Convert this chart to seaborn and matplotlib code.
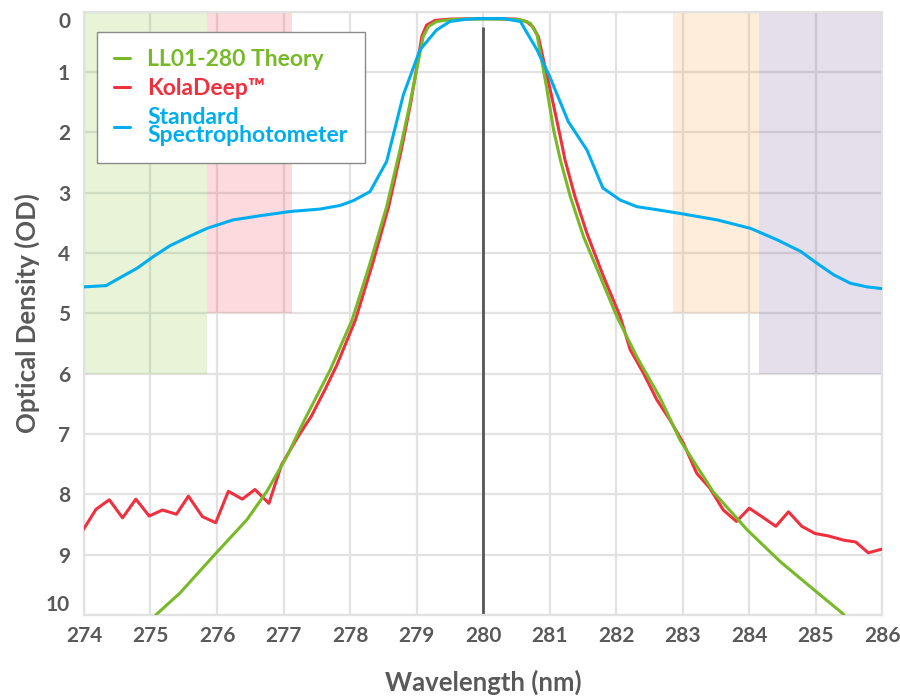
import matplotlib
matplotlib.use("Agg")
import matplotlib.pyplot as plt
import seaborn as sns
import pandas as pd

# --- data ---
theory_nm = [275.08, 275.44, 275.94, 276.45, 276.75, 277.05, 277.3, 277.7, 278.03, 278.3,
             278.55, 278.75, 278.9, 279.03, 279.1, 279.18, 279.3, 279.5, 279.8, 280.2,
             280.56, 280.71, 280.81, 280.88, 280.96, 281.06, 281.16, 281.31, 281.51, 281.76,
             282.01, 282.31, 282.66, 282.96, 283.46, 283.97, 284.47, 284.97, 285.42]
theory_od = [10.0, 9.64, 9.03, 8.42, 7.95, 7.37, 6.8, 5.94, 5.11, 4.17,
             3.23, 2.29, 1.52, 0.8, 0.41, 0.24, 0.16, 0.13, 0.12, 0.12,
             0.13, 0.19, 0.38, 0.8, 1.29, 1.96, 2.45, 3.06, 3.73, 4.39,
             5.05, 5.72, 6.4, 7.1, 7.96, 8.59, 9.12, 9.58, 9.99]

kola_nm = [273.97, 274.18, 274.38, 274.58, 274.78, 274.98, 275.18, 275.39, 275.57, 275.78,
           275.98, 276.17, 276.38, 276.57, 276.78, 276.97, 277.22, 277.42, 277.62, 277.8,
           278.08, 278.34, 278.58, 278.77, 278.91, 279.02, 279.08, 279.15, 279.28, 279.5,
           280.0, 280.5, 280.65, 280.75, 280.83, 280.93, 281.03, 281.16, 281.23, 281.38,
           281.56, 281.81, 282.06, 282.21, 282.41, 282.61, 282.81, 283.01, 283.21, 283.41,
           283.61, 283.81, 284.0, 284.19, 284.4, 284.59, 284.79, 284.99, 285.19, 285.42,
           285.6, 285.79, 285.99]
kola_od = [8.62, 8.25, 8.09, 8.39, 8.08, 8.36, 8.26, 8.33, 8.03, 8.37,
           8.47, 7.95, 8.08, 7.92, 8.15, 7.51, 7.04, 6.7, 6.27, 5.86,
           5.11, 4.17, 3.23, 2.29, 1.52, 0.8, 0.4, 0.22, 0.14, 0.12,
           0.11, 0.12, 0.16, 0.25, 0.41, 0.91, 1.4, 2.07, 2.45, 3.06,
           3.67, 4.39, 5.05, 5.6, 5.99, 6.43, 6.77, 7.15, 7.65, 7.9,
           8.26, 8.45, 8.23, 8.37, 8.53, 8.29, 8.53, 8.65, 8.69, 8.76,
           8.79, 8.97, 8.91]

std_nm = [274.0, 274.33, 274.54, 274.8, 275.04, 275.29, 275.57, 275.85, 276.24, 276.65,
          277.1, 277.55, 277.85, 278.05, 278.3, 278.55, 278.8, 279.05, 279.3, 279.5,
          279.76, 280.0, 280.3, 280.56, 280.81, 281.0, 281.28, 281.56, 281.8, 282.06,
          282.31, 282.61, 283.0, 283.52, 284.02, 284.42, 284.77, 285.02, 285.27, 285.52,
          285.77, 286.0]
std_od = [4.56, 4.54, 4.41, 4.25, 4.06, 3.88, 3.73, 3.59, 3.45, 3.38,
          3.31, 3.27, 3.21, 3.13, 2.98, 2.48, 1.38, 0.63, 0.30, 0.16,
          0.12, 0.11, 0.11, 0.16, 0.63, 1.07, 1.82, 2.29, 2.92, 3.12,
          3.23, 3.28, 3.35, 3.45, 3.59, 3.78, 3.97, 4.17, 4.36, 4.5,
          4.56, 4.59]

# shaded bands behind the curves
bands_start = [274.0, 275.85, 282.86, 284.15]
bands_end = [275.85, 277.12, 284.15, 286.0]
bands_depth = [6, 5, 5, 6]
bands_color = ["#8cc63f", "#f04a5a", "#f9a548", "#7a5f9a"]

green = "#78b928"
red = "#f0303f"
blue = "#00aeef"
grey_text = "#595959"

sns.set_style("white")
plt.rcParams["font.family"] = ["Lato", "DejaVu Sans"]
plt.rcParams["font.weight"] = "bold"

fig = plt.figure(figsize=(9, 6.98), dpi=100)
ax = fig.add_axes([0.0933, 0.119, 0.887, 0.864])

for s, e, d, c in zip(bands_start, bands_end, bands_depth, bands_color):
    ax.fill_between([s, e], 0, d, color=c, alpha=0.2, linewidth=0, zorder=1)

ax.vlines(280, 0.25, 10, color="#555555", linewidth=2, zorder=2)

theory = pd.DataFrame({"nm": theory_nm, "od": theory_od})
kola = pd.DataFrame({"nm": kola_nm, "od": kola_od})
std = pd.DataFrame({"nm": std_nm, "od": std_od})

sns.lineplot(data=kola, x="nm", y="od", color=red, linewidth=2.2, sort=False, ax=ax,
             label="KolaDeep\u2122", zorder=3)
sns.lineplot(data=theory, x="nm", y="od", color=green, linewidth=2.2, sort=False, ax=ax,
             label="LL01-280 Theory", zorder=4)
sns.lineplot(data=std, x="nm", y="od", color=blue, linewidth=2.2, sort=False, ax=ax,
             label="Standard\nSpectrophotometer", zorder=5)

ax.set_xlim(274, 286)
ax.set_ylim(10, 0)
ax.set_xticks(range(274, 287))
ax.set_yticks(range(0, 11))
ax.grid(True, color="#e2e2e2", linewidth=1.6, zorder=0)
ax.set_axisbelow(True)
for sp in ax.spines.values():
    sp.set_color("#e2e2e2")
    sp.set_linewidth(1.6)

ax.tick_params(axis="both", length=0, labelsize=15, labelcolor=grey_text)
ax.tick_params(axis="x", pad=8)
ax.tick_params(axis="y", pad=10)
ylabels = ax.get_yticklabels()
ylabels[0].set_va("top")
ylabels[-1].set_va("bottom")

ax.set_xlabel("Wavelength (nm)", fontsize=18.5, color=grey_text, fontweight="bold", labelpad=17)
ax.set_ylabel("Optical Density (OD)", fontsize=18.5, color=grey_text, fontweight="bold", labelpad=4)

handles, labels = ax.get_legend_handles_labels()
order = [1, 0, 2]
leg = ax.legend([handles[i] for i in order], [labels[i] for i in order],
                loc="upper left", bbox_to_anchor=(0.016, 0.967), borderaxespad=0,
                frameon=True, fancybox=False, edgecolor="#8a8a8a", framealpha=1,
                prop={"size": 16.5, "weight": "bold"}, handlelength=0.7,
                handletextpad=0.75, labelspacing=0.35, borderpad=0.75,
                labelcolor="linecolor")
leg.get_frame().set_linewidth(1.0)
for t in leg.get_texts():
    t.set_linespacing(0.8)

fig.savefig("out.png", dpi=100)
